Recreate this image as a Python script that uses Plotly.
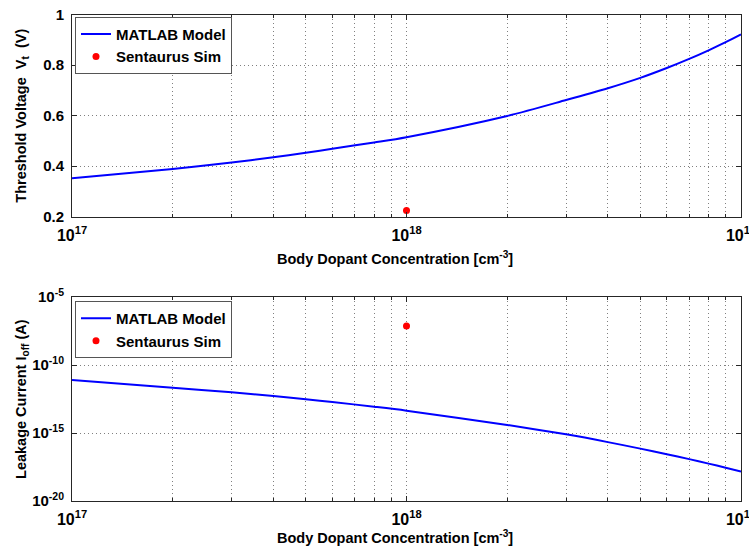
import plotly.graph_objects as go
from plotly.subplots import make_subplots

# Body dopant concentration sweep (cm^-3)
conc = [1e17, 2e17, 3e17, 4e17, 5e17, 6e17, 8e17, 1e18, 2e18, 3e18,
        4e18, 5e18, 6e18, 7e18, 8e18, 9e18, 1e19]
# MATLAB model: threshold voltage (V)
vt_model = [0.352, 0.389, 0.415, 0.435, 0.453, 0.469, 0.494, 0.515, 0.599, 0.662,
            0.709, 0.750, 0.789, 0.825, 0.859, 0.891, 0.922]
# MATLAB model: off-state leakage current (A)
ioff_model = [7.94e-12, 2.14e-12, 9.77e-13, 5.25e-13, 3.02e-13, 1.91e-13, 8.51e-14,
              4.37e-14, 3.89e-15, 7.94e-16, 2.14e-16, 7.08e-17, 2.75e-17, 1.20e-17,
              5.62e-18, 2.82e-18, 1.48e-18]
# Sentaurus simulation point
sim_conc = [1e18]
vt_sim = [0.225]
ioff_sim = [7.4e-8]

x_major = [1e17, 1e18, 1e19]
x_major_text = ["10<sup>17</sup>", "10<sup>18</sup>", "10<sup>19</sup>"]
x_minor = [m * d for d in (1e17, 1e18) for m in range(2, 10)]
ioff_ticks = [1e-20, 1e-15, 1e-10, 1e-5]
ioff_tick_text = ["10<sup>-20</sup>", "10<sup>-15</sup>", "10<sup>-10</sup>", "10<sup>-5</sup>"]

W, H = 749, 548
FONT = "Liberation Sans"
AXIS_COLOR = "#262626"
GRID_COLOR = "#808080"
GRID_DASH = "1px,3px"

fig = make_subplots(rows=2, cols=1)

line_style = dict(color="#0000ff", width=2, shape="spline", smoothing=0.8)
fig.add_trace(go.Scatter(x=conc, y=vt_model, mode="lines", name="MATLAB Model",
                         line=line_style, legend="legend"), row=1, col=1)
fig.add_trace(go.Scatter(x=sim_conc, y=vt_sim, mode="markers", name="Sentaurus Sim",
                         marker=dict(color="#ff0000", size=7), legend="legend"), row=1, col=1)
fig.add_trace(go.Scatter(x=conc, y=ioff_model, mode="lines", name="MATLAB Model",
                         line=line_style, legend="legend2"), row=2, col=1)
fig.add_trace(go.Scatter(x=sim_conc, y=ioff_sim, mode="markers", name="Sentaurus Sim",
                         marker=dict(color="#ff0000", size=7), legend="legend2"), row=2, col=1)

xtickfont = dict(family=FONT, size=16, color="black", weight="bold")
ytickfont = dict(family=FONT, size=15, color="black", weight="bold")

xaxis_common = dict(
    type="log", range=[17, 19.00001], domain=[0, 1],
    tickmode="array", tickvals=x_major, ticktext=x_major_text,
    ticks="inside", ticklen=5, tickcolor=AXIS_COLOR, ticklabelstandoff=4,
    ticklabeloverflow="allow",
    showline=True, linecolor=AXIS_COLOR, linewidth=1, mirror="ticks",
    showgrid=True, gridcolor=GRID_COLOR, griddash=GRID_DASH, gridwidth=1,
    minor=dict(tickmode="array", tickvals=x_minor, ticks="inside", ticklen=3,
               tickcolor=AXIS_COLOR, showgrid=True, gridcolor=GRID_COLOR,
               griddash=GRID_DASH, gridwidth=1),
    tickfont=xtickfont, automargin=False, zeroline=False,
)
yaxis_common = dict(
    ticks="inside", ticklen=5, tickcolor=AXIS_COLOR, ticklabelstandoff=4,
    ticklabeloverflow="allow",
    showline=True, linecolor=AXIS_COLOR, linewidth=1, mirror="ticks",
    showgrid=True, gridcolor=GRID_COLOR, griddash=GRID_DASH, gridwidth=1,
    tickfont=ytickfont, automargin=False, zeroline=False,
)

fig.update_xaxes(**xaxis_common)
fig.update_yaxes(**yaxis_common)
fig.update_yaxes(range=[0.2, 1.0], dtick=0.2, domain=[1 - 216.7 / H, 1 - 14.7 / H], row=1, col=1)
fig.update_yaxes(type="log", range=[-20, -5], tickmode="array", tickvals=ioff_ticks,
                 ticktext=ioff_tick_text, domain=[1 - 501 / H, 1 - 297 / H], row=2, col=1)

legend_common = dict(
    bgcolor="white", bordercolor="#555555", borderwidth=1,
    font=dict(family=FONT, size=15, color="black", weight="bold"),
    xanchor="left", yanchor="top", tracegroupgap=0,
)

title_font = dict(family=FONT, size=14.5, color="black", weight="bold")
L, R = 72, 8.3
plot_w = W - L - R


def px_x(px):
    return (px - L) / plot_w


def px_y(px):
    return 1 - px / H


annotations = [
    dict(text="Body Dopant Concentration [cm<sup>-3</sup>]", x=px_x(395), y=px_y(258),
         xref="paper", yref="paper", showarrow=False, font=title_font,
         xanchor="center", yanchor="middle"),
    dict(text="Body Dopant Concentration [cm<sup>-3</sup>]", x=px_x(395), y=px_y(537),
         xref="paper", yref="paper", showarrow=False, font=title_font,
         xanchor="center", yanchor="middle"),
    dict(text="Threshold Voltage  V<sub>t</sub>  (V)", x=px_x(22), y=px_y(115.7),
         xref="paper", yref="paper", showarrow=False, font=title_font, textangle=-90,
         xanchor="center", yanchor="middle"),
    dict(text="Leakage Current I<sub>off</sub> (A)", x=px_x(22), y=px_y(399),
         xref="paper", yref="paper", showarrow=False, font=title_font, textangle=-90,
         xanchor="center", yanchor="middle"),
]

fig.update_layout(
    width=W, height=H,
    margin=dict(l=L, r=R, t=0, b=0, autoexpand=False),
    paper_bgcolor="white", plot_bgcolor="white",
    showlegend=True,
    legend=dict(x=px_x(75), y=px_y(16.7), **legend_common),
    legend2=dict(x=px_x(75), y=px_y(301), **legend_common),
    annotations=annotations,
)

fig.write_html("out.html")
